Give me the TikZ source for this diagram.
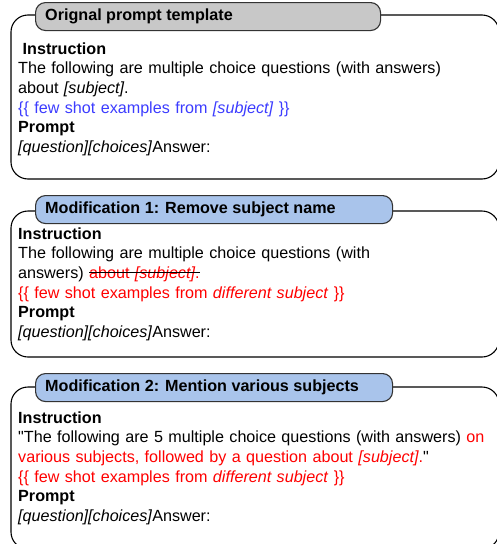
\documentclass[tikz,border=0pt]{standalone}
\usepackage{fontspec}
\setmainfont{Liberation Sans}
\definecolor{tabgray}{RGB}{200,200,200}
\definecolor{tabblue}{RGB}{169,196,235}
\definecolor{fewblue}{RGB}{60,60,255}
\definecolor{modred}{RGB}{255,0,0}
\newcommand\boxfont{\fontsize{16.15pt}{19.6pt}\selectfont}
\newcommand\dq{\XeTeXglyph\XeTeXcharglyph"0022\relax}
\newsavebox\strikebox
\newcommand\struck[1]{{\sbox\strikebox{#1}\rlap{\usebox\strikebox}\color{black}\rule[0.33em]{\wd\strikebox}{1.2pt}}}
\tikzset{
    outer/.style = {
        draw       = black,
        line width = 1.1pt,
        rounded corners = 17pt,
    },
    tab/.style = {
        draw       = black!80,
        line width = 1.1pt,
        rounded corners = 10pt,
        inner sep  = 0pt,
        anchor     = north west,
        minimum height = 28pt,
    },
    title/.style = {
        anchor    = base west,
        inner sep = 0pt,
        font      = \boxfont\bfseries,
    },
    body/.style = {
        anchor     = base west,
        inner sep  = 0pt,
        text width = 475pt,
        align      = left,
        font       = \boxfont,
    }
}

\begin{document}
\begin{tikzpicture}[x=1pt, y=-1pt]
  \path[use as bounding box] (0,0) rectangle (497,544);
  \clip (0,0) rectangle (497,544);

  % original template
  \draw[outer] (11,15) rectangle (499,179);
  \node[tab, fill=tabgray, minimum width=345pt] (tab1) at (35,2) {};
  \node[title] (title1) at (45,20.7) {Orignal prompt template};
  \node[body] (text1) at (18,54.3) {\hspace*{4.5pt}\textbf{Instruction}\\
    The following are multiple choice questions (with answers)\\
    about \textit{[subject]}.\\
    \textcolor{fewblue}{\{\{ few shot examples from \textit{[subject]} \}\}}\\
    \textbf{Prompt}\\
    \textit{[question][choices]}Answer:};

  % modification 1
  \draw[outer] (11,211) rectangle (499,357);
  \node[tab, fill=tabblue, minimum width=357pt] (tab2) at (35,195) {};
  \node[title] (title2) at (45,213.3) {Modification 1: Remove subject name};
  \node[body] (text2) at (18,239.3) {\textbf{Instruction}\\
    The following are multiple choice questions (with\\
    answers) \textcolor{modred}{\struck{about \textit{[subject]}.}}\\
    \textcolor{modred}{\{\{ few shot examples from \textit{different subject} \}\}}\\
    \textbf{Prompt}\\
    \textit{[question][choices]}Answer:};

  % modification 2
  \draw[outer] (11,387) rectangle (499,549);
  \node[tab, fill=tabblue, minimum width=357pt] (tab3) at (35,373) {};
  \node[title] (title3) at (45,391.7) {Modification 2: Mention various subjects};
  \node[body] (text3) at (18,423.3) {\textbf{Instruction}\\
    \dq The following are 5 multiple choice questions (with answers) \textcolor{modred}{on}\\
    \textcolor{modred}{various subjects, followed by a question about \textit{[subject]}.}\dq\\
    \textcolor{modred}{\{\{ few shot examples from \textit{different subject} \}\}}\\
    \textbf{Prompt}\\
    \textit{[question][choices]}Answer:};
\end{tikzpicture}
\end{document}
